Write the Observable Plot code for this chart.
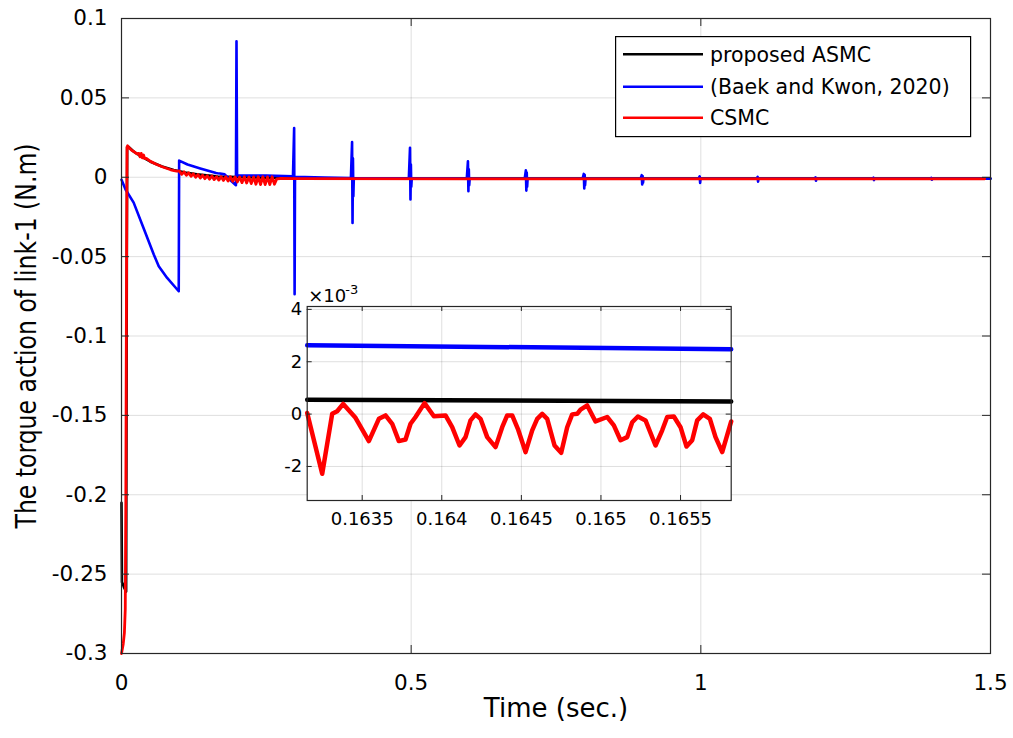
<!DOCTYPE html>
<html><head><meta charset="utf-8">
<script src="https://cdn.jsdelivr.net/npm/d3@7"></script>
<script src="https://cdn.jsdelivr.net/npm/@observablehq/plot@0.6"></script>
<style>
body{margin:0;background:#fff;}
#wrap{position:relative;width:1013px;height:738px;overflow:hidden;background:#fff;}
#inset{position:absolute;left:260px;top:280px;}
#legend{position:absolute;left:615px;top:36px;}
</style></head><body><div id="wrap"><div id="main"></div><div id="inset"></div><svg id="legend" width="357" height="102"></svg></div>
<script>
// ---------- data ----------
const seriesNames = ["proposed ASMC", "(Baek and Kwon, 2020)", "CSMC"];
const seriesColors = ["#000000", "#0000ff", "#ff0000"];
const xTicks = [0, 0.5, 1, 1.5];
const yTicks = [0.1, 0.05, 0, -0.05, -0.1, -0.15, -0.2, -0.25, -0.3];
const xLabel = "Time (sec.)";
const yLabel = "The torque action of link-1 (N.m)";

// proposed ASMC
const asmcT = [0, 0.0008, 0.004, 0.008, 0.0092, 0.0098, 0.012, 0.02, 0.03, 0.05, 0.07, 0.09, 0.11, 0.13, 0.1632, 0.1658, 0.2, 0.25, 0.3, 0.5, 1.0, 1.5];
const asmcV = [-0.205, -0.255, -0.258, -0.261, -0.05, 0.019, 0.0192, 0.0165, 0.014, 0.0098, 0.0068, 0.0046, 0.003, 0.0018, 0.00055, 0.00048, 0.0002, -0.0003, -0.0006, -0.0008, -0.0008, -0.0008];

// Baek and Kwon, 2020
const baekT = [0, 0.007, 0.021, 0.038, 0.0557, 0.0643, 0.0788, 0.0988, 0.0995, 0.114, 0.136, 0.1632, 0.1658, 0.17, 0.178, 0.19, 0.1975,
  0.1985, 0.1995, 0.25, 0.296,
  0.298, 0.2988, 0.2995, 0.35, 0.396,
  0.398, 0.3988, 0.3995, 0.4002, 0.401, 0.496,
  0.498, 0.4988, 0.4995, 0.5002, 0.501, 0.596,
  0.598, 0.5988, 0.5995, 0.6002, 0.601, 0.696,
  0.698, 0.6988, 0.6995, 0.7002, 0.701, 0.796,
  0.798, 0.7988, 0.7995, 0.8002, 0.801, 0.896,
  0.898, 0.8988, 0.8995, 0.9002, 0.901, 0.996,
  0.998, 0.9988, 0.9995, 1.096,
  1.098, 1.0988, 1.0995, 1.196,
  1.198, 1.1988, 1.1995, 1.296,
  1.298, 1.2988, 1.2995, 1.396,
  1.398, 1.3988, 1.3995, 1.5];
const baekV = [-0.0015, -0.0077, -0.016, -0.032, -0.0487, -0.056, -0.0634, -0.0718, 0.0105, 0.008, 0.0055, 0.00263, 0.00248, 0.0024, 0.0018, -0.0025, -0.005,
  0.0856, 0.0013, 0.001, 0.0006,
  0.031, -0.0737, 0.0003, -0.0002, -0.0005,
  0.0222, -0.0288, 0.012, -0.012, -0.0006, -0.0007,
  0.0185, -0.014, 0.008, -0.006, -0.0008, -0.0008,
  0.010, -0.0088, 0.005, -0.005, -0.0009, -0.0009,
  0.0044, -0.0084, 0.003, -0.006, -0.0009, -0.0009,
  0.0021, -0.0071, 0.0015, -0.005, -0.0009, -0.0009,
  0.0013, -0.0046, 0.0008, -0.0035, -0.0009, -0.0009,
  0.0006, -0.0036, -0.0009, -0.0009,
  0.0002, -0.0028, -0.0009, -0.0009,
  -0.0001, -0.0022, -0.0009, -0.0009,
  -0.0003, -0.0018, -0.0009, -0.0009,
  -0.0004, -0.0016, -0.0009, -0.0009];

// CSMC
const csmcT = [0, 0.003, 0.005, 0.0065, 0.0075, 0.0085, 0.0095, 0.0105, 0.014, 0.018, 0.022, 0.026,
  0.030, 0.032, 0.034, 0.036, 0.038, 0.040, 0.043, 0.05, 0.06, 0.07, 0.085, 0.095,
  0.100, 0.104, 0.108, 0.112, 0.116, 0.120, 0.124, 0.128, 0.132, 0.136, 0.140, 0.144, 0.148, 0.152, 0.156, 0.160,
  0.164, 0.168, 0.172, 0.176, 0.180, 0.184, 0.188, 0.192, 0.196, 0.200, 0.204, 0.208, 0.212, 0.216, 0.220,
  0.224, 0.228, 0.232, 0.236, 0.240, 0.244, 0.248, 0.252, 0.256, 0.260, 0.264, 0.268, 0.275, 0.3, 0.6, 1.0, 1.49];
const csmcV = [-0.3, -0.294, -0.287, -0.272, -0.2, -0.08, 0.019, 0.0198, 0.0182, 0.0168, 0.016, 0.0148,
  0.0150, 0.0128, 0.0150, 0.0122, 0.0140, 0.0118, 0.0118, 0.0100, 0.0082, 0.0066, 0.0047, 0.0038,
  0.0040, 0.0018, 0.0034, 0.0012, 0.0028, 0.0006, 0.0022, 0.0000, 0.0017, -0.0005, 0.0013, -0.0009, 0.0010, -0.0012, 0.0008, -0.0015,
  0.0004, -0.0018, 0.0004, -0.0020, 0.0003, -0.0024, 0.0003, -0.0026, 0.0002, -0.0030, 0.0002, -0.0034, 0.0003, -0.0036, 0.0002,
  -0.0040, 0.0002, -0.0044, 0.0003, -0.0046, 0.0003, -0.0046, 0.0002, -0.0046, 0.0003, -0.0044, -0.0010, -0.0008, -0.0009, -0.0010, -0.0010, -0.0010];

// inset (values in units of 1e-3)
const insetXTicks = [0.1635, 0.164, 0.1645, 0.165, 0.1655];
const insetYTicks = [-2, 0, 2, 4];
const insetBaekT = [0.1631545, 0.1658183];
const insetBaekV = [2.63, 2.48];
const insetAsmcT = [0.1631545, 0.1658183];
const insetAsmcV = [0.55, 0.48];
const insetCsmcT = [0.1631545, 0.1632487, 0.1633115, 0.1633429, 0.1633806, 0.1634581, 0.1635419, 0.1636047, 0.1636466, 0.1636885,
  0.1637304, 0.1637722, 0.1638037, 0.1638351, 0.1638916, 0.1639503, 0.1640236, 0.1640654, 0.1641115, 0.1641492,
  0.1641806, 0.164212, 0.1642434, 0.1642853, 0.1643377, 0.1643796, 0.164411, 0.1644424, 0.164478, 0.1645262,
  0.164568, 0.1645995, 0.1646309, 0.1646623, 0.1647084, 0.1647502, 0.1647879, 0.1648193, 0.1648508, 0.1648717,
  0.1649136, 0.1649659, 0.1650392, 0.1650811, 0.165123, 0.1651649, 0.1651963, 0.1652319, 0.1652801, 0.1653429,
  0.1653848, 0.1654162, 0.1654581, 0.1655, 0.1655376, 0.1655732, 0.1656047, 0.1656424, 0.1656843, 0.1657199,
  0.1657618, 0.1658183];
const insetCsmcV = [0.04, -2.28, 0.01, 0.11, 0.39, -0.14, -1.03, -0.18, -0.05, -0.37,
  -1.03, -0.97, -0.37, -0.11, 0.42, -0.08, -0.05, -0.5, -1.2, -0.88,
  -0.24, -0.01, -0.18, -0.88, -1.26, -0.5, -0.05, -0.05, -0.56, -1.45,
  -0.62, -0.18, 0.01, -0.18, -1.2, -1.48, -0.5, -0.01, 0.01, 0.17,
  0.33, -0.28, -0.11, -0.43, -1.0, -0.88, -0.31, -0.09, -0.24, -1.2,
  -0.62, -0.11, -0.09, -0.5, -1.24, -1.0, -0.24, -0.01, -0.18, -0.88,
  -1.45, -0.28];
const insetExponent = ["×10", "-3"];

// ---------- helpers ----------
const rows = (T, V) => T.map((t, i) => ({t, v: V[i]}));
const fmtMain = d => { const s = String(+d.toFixed(3)); return s.replace("\u2212", "-"); };
const FONT = "DejaVu Sans, Liberation Sans, sans-serif";
const gridStyle = {stroke: "#000", strokeOpacity: 0.13, strokeWidth: 1};

// ---------- main chart ----------
const W = 1013, H = 738, ML = 121, MR = 23, MT = 18, MB = 85;
const FW = W - ML - MR, FH = H - MT - MB;
const main = Plot.plot({
  width: W, height: H, marginLeft: ML, marginRight: MR, marginTop: MT, marginBottom: MB,
  x: {domain: [0, 1.5]},
  y: {domain: [-0.3, 0.1]},
  style: {fontFamily: FONT, fontSize: "21.5px", color: "#000", background: "transparent", overflow: "visible"},
  marks: [
    Plot.gridX(xTicks, gridStyle),
    Plot.gridY(yTicks, gridStyle),
    Plot.line(rows(asmcT, asmcV), {x: "t", y: "v", stroke: seriesColors[0], strokeWidth: 2.6}),
    Plot.line(rows(baekT, baekV), {x: "t", y: "v", stroke: seriesColors[1], strokeWidth: 2.6}),
    Plot.line(rows(csmcT, csmcV), {x: "t", y: "v", stroke: seriesColors[2], strokeWidth: 2.8}),
    Plot.tickX(xTicks, {x: d => d, insetTop: FH - 8, stroke: "#262626"}),
    Plot.tickX(xTicks, {x: d => d, insetBottom: FH - 8, stroke: "#262626"}),
    Plot.tickY(yTicks, {y: d => d, insetRight: FW - 8, stroke: "#262626"}),
    Plot.tickY(yTicks, {y: d => d, insetLeft: FW - 8, stroke: "#262626"}),
    Plot.frame({stroke: "#262626", strokeWidth: 1.2}),
    Plot.axisX(xTicks, {tickSize: 0, tickPadding: 21, tickFormat: fmtMain, fontSize: 21.5, fill: "#000", label: null}),
    Plot.axisY(yTicks, {tickSize: 0, tickPadding: 14, tickFormat: fmtMain, fontSize: 21.5, fill: "#000", label: null}),
    Plot.text([xLabel], {frameAnchor: "bottom", dy: 63, fontSize: 26, fill: "#000"}),
    Plot.text([yLabel], {frameAnchor: "left", textAnchor: "middle", rotate: -90, dx: -94, fontSize: 28, fill: "#000"})
  ]
});
document.getElementById("main").appendChild(main);
d3.select(main).selectAll("text").filter(function(){ return this.textContent === yLabel; })
  .attr("textLength", 385).attr("lengthAdjust", "spacingAndGlyphs");

// ---------- inset ----------
const IW = 480, IH = 262, IML = 46.7, IMR = 9.3, IMT = 26, IMB = 42;
const IFW = IW - IML - IMR, IFH = IH - IMT - IMB;
const inset = Plot.plot({
  width: IW, height: IH, marginLeft: IML, marginRight: IMR, marginTop: IMT, marginBottom: IMB,
  x: {domain: [0.1631545, 0.1658183]},
  y: {domain: [-3.3, 4.11]},
  style: {fontFamily: FONT, fontSize: "18px", color: "#000", background: "transparent", overflow: "visible"},
  marks: [
    Plot.frame({fill: "#fff", stroke: null}),
    Plot.gridX(insetXTicks, gridStyle),
    Plot.gridY(insetYTicks, gridStyle),
    Plot.line(rows(insetAsmcT, insetAsmcV), {x: "t", y: "v", stroke: seriesColors[0], strokeWidth: 4.5}),
    Plot.line(rows(insetBaekT, insetBaekV), {x: "t", y: "v", stroke: seriesColors[1], strokeWidth: 4.5}),
    Plot.line(rows(insetCsmcT, insetCsmcV), {x: "t", y: "v", stroke: seriesColors[2], strokeWidth: 4.5}),
    Plot.tickX(insetXTicks, {x: d => d, insetTop: IFH - 5, stroke: "#262626"}),
    Plot.tickX(insetXTicks, {x: d => d, insetBottom: IFH - 5, stroke: "#262626"}),
    Plot.tickY(insetYTicks, {y: d => d, insetRight: IFW - 5, stroke: "#262626"}),
    Plot.tickY(insetYTicks, {y: d => d, insetLeft: IFW - 5, stroke: "#262626"}),
    Plot.frame({stroke: "#262626", strokeWidth: 1.2}),
    Plot.axisX(insetXTicks, {tickSize: 0, tickPadding: 12, tickFormat: d => String(+d.toFixed(4)), fontSize: 18, fill: "#000", label: null}),
    Plot.axisY(insetYTicks, {tickSize: 0, tickPadding: 5, tickFormat: d => String(d).replace("\u2212", "-"), fontSize: 18, fill: "#000", label: null}),
    Plot.text([insetExponent[0]], {frameAnchor: "top-left", textAnchor: "start", lineAnchor: "bottom", dx: 1, dy: -5, fontSize: 18, fill: "#000"}),
    Plot.text([insetExponent[1]], {frameAnchor: "top-left", textAnchor: "start", lineAnchor: "bottom", dx: 38, dy: -13, fontSize: 13, fill: "#000"})
  ]
});
document.getElementById("inset").appendChild(inset);

// ---------- legend ----------
const lg = d3.select("#legend");
lg.append("rect").attr("x", 0.6).attr("y", 0.6).attr("width", 355).attr("height", 100)
  .attr("fill", "#fff").attr("stroke", "#000").attr("stroke-width", 1.2);
const rowY = [18.3, 50.7, 81.7];
seriesNames.forEach((name, i) => {
  lg.append("line").attr("x1", 8).attr("x2", 88).attr("y1", rowY[i]).attr("y2", rowY[i])
    .attr("stroke", seriesColors[i]).attr("stroke-width", 2.6);
  lg.append("text").attr("x", 95).attr("y", rowY[i]).attr("dy", "0.36em")
    .attr("font-family", FONT).attr("font-size", 20.5).attr("fill", "#000").text(name);
});
</script>
</body></html>
